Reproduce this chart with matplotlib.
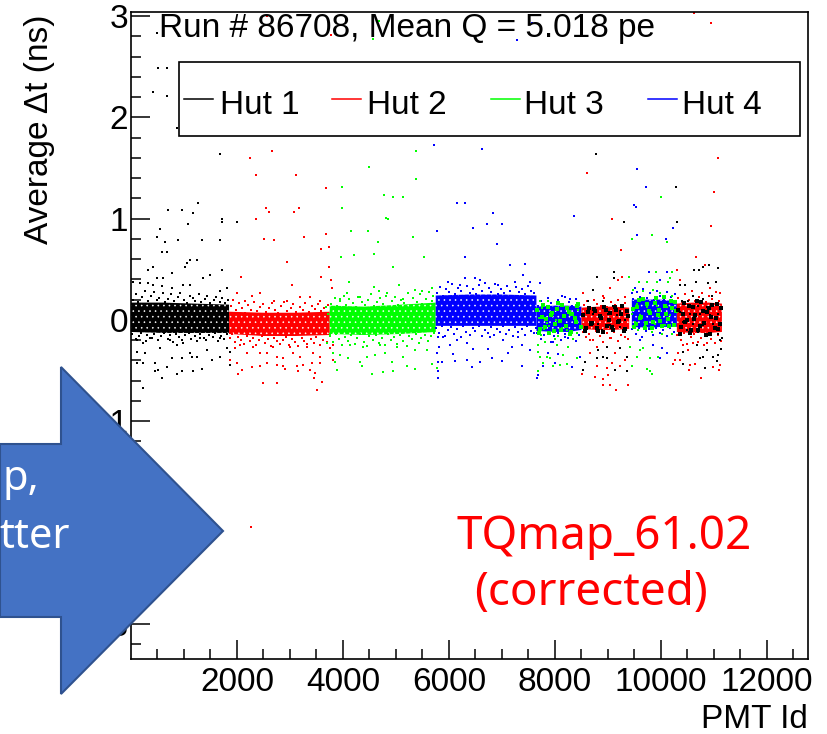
import numpy as np
import matplotlib
matplotlib.use('Agg')
import matplotlib.pyplot as plt
from matplotlib.patches import Polygon, Rectangle
from matplotlib.lines import Line2D

W, H = 828, 734

# Outliers and sparse points (PMT id, average dt in ns)
hut1_x = [484, 515, 677, 420, 677, 870, 1680, 1260, 700, 960, 1170, 1080, 550, 490, 640, 890, 1340, 1680, 585, 680,
          1720, 1720, 2000, 8770, 10280, 9300, 10300,
          420, 330, 770, 1490, 1710, 1365, 485, 610, 45, 170, 330, 420, 580, 770, 990, 1115, 1680, 1805, 1020, 1050, 1115, 1240,
          110, 360, 235, 735, 990, 1300, 1680, 110, 265, 550, 860, 1115, 1240, 1430, 1805, 110, 235, 455, 770, 955, 1145, 1520,
          1680, 1870, 455, 515, 675, 860, 955, 1175, 1335, 580, 235, 1870,
          8725, 8800, 9115, 9115, 8630, 8910, 9100, 9225, 8725, 8850, 9005, 9165, 9320, 8660, 8820, 9040, 9225, 8880, 9100, 9320,
          8820, 8975, 9225, 8910, 8975, 8785, 9350, 8535, 9350, 9130, 8565,
          10630, 10725, 10800, 10910, 11070, 10660, 10895, 11040, 10360, 10450, 10610, 10800, 10955, 10390, 10515, 10705, 10860,
          11050, 10360, 10550, 10735, 10925, 11080, 10420, 10610, 10800, 10990, 10485, 10705, 10895, 11080, 11145, 11115, 10675,
          10860, 11130, 10420, 10800, 10990, 10735, 11050, 10410, 10830, 11080]
hut1_y = [2.83, 2.49, 2.49, 2.25, 2.21, 1.89, 1.64, 1.15, 1.08, 1.08, 1.05, .95, .90, .82, .77, .79, .79, .79, .67, .67,
          1.0, .97, .97, 1.64, 1.31, .97, .97,
          .52, .49, .46, .44, .49, .41, .41, .41, .37, .36, .36, .34, .33, .31, .34, .34, .28, .31, .52, .56, .59, .59,
          -.20, -.18, -.23, -.2, -.23, -.18, -.18, -.32, -.33, -.28, -.25, -.33, -.37, -.30, -.28, -.43, -.43, -.43, -.38, -.38, -.37, -.40,
          -.37, -.45, -.51, -.50, -.47, -.54, -.51, -.51, -.49, -.57, -.67, -.32,
          .29, .42, .47, .41, .19, .19, .14, .09, .06, .03, .06, .05, 0, -.02, -.04, -.05, -.07, -.1, -.1, -.12,
          -.3, -.27, -.28, -.37, -.38, -.38, -.37, -.5, -.51, -.5, -.42,
          .49, .49, .52, .54, .51, .37, .36, .37, .34, .34, .24, .21, .24, .19, .19, .14, .13,
          .16, .08, .06, .06, .05, .06, -.02, -.04, -.05, -.04, -.1, -.12, -.14, -.14, -.18, -.2, -.25,
          -.3, -.29, -.32, -.37, -.37, -.38, -.41, -.44, -.48, -.35]

hut2_x = [2560, 3770, 2250, 2660, 2360, 3110, 3680, 2550, 2600, 3080, 3170, 2360, 2510, 2700, 3260, 3680, 3580, 3740,
          10620, 10950, 11070, 8610, 11000, 9080, 10940, 2260,
          2950, 3740, 2070, 3590, 3770, 3045, 3800, 2000, 2280, 2435, 2690, 2940, 3190, 3380, 3565, 2150,
          1965, 2185, 2435, 2560, 2750, 2875, 3060, 3190, 3440, 3565, 3755, 3820, 2055, 2310, 2685, 3000, 3315,
          1870, 2000, 2280, 2435, 2560, 2750, 2875, 3125, 3250, 3410, 3565, 3820, 2025, 2090, 2500, 2750, 3160, 3380, 3475, 3455, 3600, 3515, 2905,
          8535, 9040, 9260, 9195, 8910, 9320, 8660, 9040, 9320, 8660, 8785, 9130, 9320, 9070, 8785, 8975, 9225, 8510, 8755, 8910,
          9005, 8900, 9040, 9145, 9370, 9240,
          10660, 10830, 10310, 10360, 11115, 10925, 10420, 10610, 10860, 10325, 10515, 10360, 10235, 10550, 10640, 10990, 11115,
          10535, 11100, 10755, 10265]
hut2_y = [3.0, 2.81, 1.6, 1.67, 1.43, 1.43, 1.3, 1.1, 1.06, 1.06, 1.1, 1.0, .8, .79, .82, .85, .7, .72,
          3.03, 2.93, 1.6, 1.45, 1.26, 1.0, .93, -2.05,
          .57, .52, .42, .42, .39, .34, .31, .26, .24, .26, .19, .19, .23, .23, .19, .19,
          -.28, -.33, -.33, -.33, -.37, -.38, -.33, -.37, -.33, -.37, -.28, -.25, -.25, -.27, -.27, -.27, -.27,
          -.40, -.43, -.47, -.46, -.43, -.45, -.46, -.46, -.45, -.43, -.43, -.40, -.54, -.50, -.62, -.62, -.51, -.50, -.53, -.57, -.61, -.69, -.49,
          .26, .31, .42, .39, .24, .23, -.2, -.18, -.17, -.33, -.27, -.33, -.4, -.43, -.46, -.48, -.46, -.54, -.56, -.58,
          -.55, -.64, -.64, -.69, -.64, .69,
          .62, .54, .49, .39, .26, .31, -.25, -.23, -.23, -.33, -.3, -.4, -.44, -.45, -.44, -.47, -.45,
          -.5, -.5, -.57, -.4]

hut3_x = [4680, 4570, 5380, 4490, 5380, 3980, 4780, 4940, 5130, 3980, 4810, 4850, 4150, 4470, 5320, 4660, 4210, 4580, 3960, 5530,
          10000, 9450, 9830, 10110,
          4940, 4120, 4590, 5065, 4070, 4670, 4825, 5360, 5485, 5675, 5705, 3945, 4320, 5140,
          3820, 4135, 4385, 4700, 5015, 5360, 5580, 3945, 4100, 4320, 4450, 4605, 4795, 4920, 5140, 5675, 3850, 4350, 4540, 4760, 4950,
          5200, 5360, 5770, 3880, 3695, 3755, 3725, 3680,
          7685, 7720, 7840, 7780, 7970, 8095, 8220, 8030, 8250, 8410, 7685, 7905, 8155, 7685, 7810, 8000, 8345, 7715, 7875, 8030,
          7760, 7930, 8110, 8280, 8440, 7700, 7850, 8020, 8190, 8370, 7790, 7960, 8130, 8300, 7730, 7890, 8060, 8230, 8410,
          9395, 9905, 10200, 10170, 10140, 9585, 9730, 9920, 9480, 9670, 9855, 9980, 10200, 9540, 9730, 9920, 10110, 9445, 9605,
          9795, 9980, 10170, 9510, 9700, 9885, 10075, 9570, 9825, 10015, 10200, 9415, 9605, 9670, 9540, 9795, 9950, 9445, 9730, 9835, 9795]
hut3_y = [2.95, 2.77, 1.67, 1.51, 1.39, 1.31, 1.23, 1.21, 1.21, 1.1, 1.01, 1.0, .88, .88, .82, .77, .64, .65, .62, .62,
          1.21, .8, .84, .77,
          .52, .37, .32, .34, .26, .28, .26, .29, .28, .31, .24, .21, .23, .21,
          -.33, -.25, -.27, -.25, -.27, -.30, -.30, -.35, -.38, -.42, -.37, -.35, -.33, -.42, -.37, -.44, -.42, -.46, -.54, -.52, -.51,
          -.46, -.49, -.48, -.50, -.23, -.14, .06, .13,
          -.25, -.37, -.37, -.43, -.46, -.45, -.44, -.25, -.27, -.38, -.51, -.38, -.35, -.32, -.22, -.19, -.19, .19, .19, .18,
          .12, .08, .14, .05, .1, .02, -.03, 0, -.05, .03, -.09, -.12, -.08, -.14, -.15, -.06, -.16, -.1, -.13,
          .42, .47, .47, .41, .37, .37, .37, .37, .29, .28, .29, .26, .24, .16, .13, .14, .13, .06, .05,
          .06, .03, .05, -.02, -.05, -.04, -.05, -.1, -.12, -.14, -.14, -.27, -.3, -.28, -.37, -.38, -.37, -.46, -.49, -.54, -.51]

hut4_x = [7280, 7560, 5720, 6620, 6150, 6300, 6830, 6710, 7000, 6450, 5770, 6900, 6300,
          9550, 9710, 9490, 9530, 8360, 10230, 9550, 10090,
          6300, 7150, 7435, 7400, 6300, 6490, 6585, 5990, 6210, 6680, 6930, 7245, 7530, 7715,
          5895, 6145, 6335, 6775, 7025, 7310, 7370, 6020, 6080, 6460, 6740, 7180, 7530, 6335, 6585, 6805, 6995, 7370, 6430, 5860, 6115, 7120,
          5800, 5820, 5770, 5800, 5790, 5800,
          7675, 7670, 7780, 8000, 8315, 7875, 8065, 8470, 7970, 8190, 8125, 8285,
          9780, 10105, 9980, 9445, 9510, 9855, 10015, 9605, 9980, 10105]
hut4_y = [2.76, 2.93, 1.73, 1.69, 1.15, 1.15, 1.05, .95, .95, .91, .88, .75, .62,
          1.49, 1.31, 1.13, 1.11, 1.03, .91, .84, .8,
          .62, .54, .55, .44, .41, .41, .39, .37, .34, .36, .34, .37, .37, .36,
          -.17, -.2, -.23, -.17, -.2, -.17, -.25, -.25, -.34, -.29, -.29, -.27, -.3, -.4, -.42, -.38, -.41, -.46, -.47, -.42, -.41, -.33,
          -.17, -.27, -.33, -.42, -.51, -.57,
          -.55, -.57, -.46, -.43, -.47, -.33, -.34, -.37, -.22, -.17, .24, .21,
          .47, .47, .39, .26, .31, -.25, -.28, -.2, -.38, -.33]

# Ragged rim around the dense core
edge1_x = [30, 90, 140, 210, 260, 330, 370, 430, 490, 530, 600, 650, 700, 760, 810, 880, 930, 1000, 1050, 1110, 1170, 1210,
           1280, 1330, 1390, 1440, 1500, 1560, 1610, 1670, 1720, 1780, 1830,
           20, 100, 150, 190, 280, 310, 390, 440, 510, 560, 620, 690, 740, 800, 850, 910, 970, 1020, 1090, 1130, 1200, 1250,
           1310, 1370, 1420, 1470, 1540, 1590, 1640, 1700, 1750, 1810]
edge1_y = [.2, .25, .18, .23, .28, .19, .24, .27, .2, .22, .26, .18, .21, .25, .19, .23, .26, .2, .17, .24, .22, .19,
           .25, .18, .21, .24, .17, .2, .23, .18, .22, .17, .2,
           -.14, -.19, -.16, -.13, -.21, -.15, -.18, -.14, -.2, -.16, -.13, -.19, -.15, -.22, -.14, -.17, -.2, -.15, -.13, -.19, -.16, -.21,
           -.14, -.18, -.2, -.15, -.17, -.13, -.21, -.16, -.19, -.14]

edge2_x = [1880, 1930, 1990, 2040, 2100, 2150, 2210, 2260, 2320, 2380, 2430, 2490, 2550, 2600, 2660, 2720, 2780, 2830, 2890, 2950,
           3010, 3060, 3120, 3180, 3240, 3290, 3350, 3410, 3470, 3520, 3590, 3650, 3710,
           1860, 1910, 1970, 2020, 2080, 2130, 2190, 2240, 2300, 2360, 2410, 2470, 2530, 2580, 2640, 2700, 2760, 2810, 2870, 2930,
           2990, 3040, 3100, 3160, 3220, 3270, 3330, 3390, 3450, 3500, 3570, 3630, 3690,
           8540, 8600, 8670, 8730, 8790, 8860, 8930, 8990, 9060, 9130, 9190, 9260, 9330,
           8520, 8590, 8650, 8710, 8780, 8840, 8910, 8980, 9050, 9110, 9180, 9250, 9310, 9380,
           10330, 10390, 10450, 10520, 10580, 10640, 10710, 10770, 10840, 10900, 10970, 11030, 11100,
           10310, 10370, 10430, 10500, 10560, 10630, 10690, 10760, 10820, 10890, 10950, 11020, 11080, 11140]
edge2_y = [.14, .2, .1, .17, .12, .07, .15, .1, .18, .09, .13, .16, .08, .12, .17, .1, .07, .14, .18, .09,
           .12, .16, .08, .13, .1, .17, .08, .14, .11, .16, .09, .12, .15,
           -.18, -.14, -.22, -.17, -.2, -.24, -.16, -.21, -.18, -.25, -.2, -.16, -.23, -.19, -.26, -.18, -.21, -.24, -.2, -.17,
           -.25, -.19, -.22, -.26, -.18, -.21, -.24, -.19, -.23, -.17, -.25, -.2, -.22,
           .15, .19, .13, .2, .16, .14, .22, .13, .18, .15, .2, .14, .17,
           -.12, -.17, -.14, -.2, -.11, -.16, -.22, -.13, -.18, -.12, -.21, -.15, -.11, -.19,
           .22, .18, .25, .2, .28, .19, .23, .26, .18, .24, .21, .27, .19,
           -.15, -.2, -.13, -.24, -.17, -.14, -.22, -.18, -.25, -.13, -.19, -.23, -.15, -.21]

edge3_x = [3780, 3840, 3890, 3950, 4010, 4060, 4120, 4180, 4240, 4290, 4350, 4410, 4470, 4520, 4580, 4640, 4700, 4760, 4810, 4870,
           4930, 4990, 5040, 5100, 5160, 5220, 5270, 5330, 5390, 5450, 5500, 5560, 5620, 5680,
           3760, 3820, 3870, 3930, 3990, 4040, 4100, 4160, 4220, 4270, 4330, 4390, 4450, 4500, 4560, 4620, 4680, 4740, 4790, 4850,
           4910, 4970, 5020, 5080, 5140, 5200, 5250, 5310, 5370, 5430, 5480, 5540, 5600, 5660, 5720]
edge3_y = [.16, .22, .14, .19, .24, .15, .21, .17, .13, .23, .18, .15, .2, .25, .14, .18, .22, .16, .24, .13,
           .19, .23, .15, .2, .17, .26, .14, .22, .18, .25, .16, .21, .27, .19,
           -.16, -.22, -.14, -.19, -.25, -.17, -.21, -.15, -.24, -.18, -.14, -.22, -.26, -.16, -.2, -.15, -.23, -.18, -.25, -.14,
           -.2, -.17, -.24, -.15, -.21, -.26, -.16, -.19, -.14, -.23, -.18, -.15, -.21, -.16, -.13]

edge4_x = [5770, 5830, 5880, 5940, 6000, 6050, 6110, 6170, 6230, 6280, 6340, 6400, 6460, 6510, 6570, 6630, 6690, 6750, 6800, 6860,
           6920, 6980, 7030, 7090, 7150, 7210, 7260, 7320, 7380, 7440, 7490, 7550, 7610,
           5760, 5820, 5870, 5930, 5990, 6040, 6100, 6160, 6220, 6270, 6330, 6390, 6450, 6500, 6560, 6620, 6680, 6740, 6790, 6850,
           6910, 6970, 7020, 7080, 7140, 7200, 7250, 7310, 7370, 7430, 7480, 7540, 7600, 7640,
           7680, 7740, 7800, 7870, 7930, 8000, 8060, 8130, 8190, 8260, 8330, 8400, 8460,
           7670, 7730, 7790, 7860, 7920, 7990, 8050, 8120, 8180, 8250, 8320, 8390, 8450,
           9480, 9540, 9600, 9670, 9730, 9800, 9860, 9930, 9990, 10060, 10120, 10190, 10260,
           9460, 9530, 9590, 9650, 9720, 9780, 9850, 9910, 9980, 10040, 10110, 10170, 10240]
edge4_y = [.26, .32, .24, .3, .27, .35, .25, .31, .28, .24, .33, .26, .3, .25, .34, .28, .24, .31, .27, .35,
           .25, .3, .26, .33, .28, .24, .32, .27, .3, .25, .33, .28, .26,
           -.08, -.13, -.06, -.16, -.1, -.07, -.14, -.09, -.17, -.06, -.12, -.15, -.08, -.11, -.06, -.16, -.1, -.13, -.07, -.15,
           -.09, -.12, -.06, -.14, -.1, -.16, -.07, -.12, -.09, -.15, -.06, -.11, -.13, -.08,
           .14, .19, .15, .22, .17, .13, .2, .15, .23, .18, .14, .21, .16,
           -.13, -.19, -.15, -.12, -.22, -.16, -.13, -.2, -.14, -.18, -.12, -.21, -.15,
           .21, .27, .23, .3, .22, .26, .2, .28, .24, .21, .27, .23, .25,
           -.09, -.14, -.08, -.17, -.11, -.09, -.15, -.08, -.13, -.1, -.16, -.08, -.12]

# Second hut drawn over the mixed stretches (black on red, green on blue)
mix_black_x = [8530, 8590, 8640, 8700, 8760, 8810, 8870, 8930, 8980, 9040, 9090, 9150, 9210, 9260, 9320, 9370,
               8560, 8620, 8680, 8740, 8790, 8850, 8910, 8960, 9020, 9080, 9130, 9190, 9240, 9300, 9350,
               10330, 10380, 10430, 10490, 10540, 10600, 10650, 10700, 10760, 10810, 10870, 10920, 10970, 11030, 11080, 11130,
               10350, 10410, 10460, 10520, 10570, 10630, 10680, 10740, 10790, 10850, 10900, 10950, 11010, 11060, 11110]
mix_black_y = [.05, -.08, .12, -.03, .09, -.11, .02, .13, -.06, .07, -.1, .1, -.01, .14, -.09, .04,
               -.11, .08, -.04, .11, -.08, .04, -.12, .1, 0, -.07, .13, -.02, .06, -.11, .09,
               .1, -.07, .17, 0, -.13, .13, .05, -.1, .18, -.03, .08, -.14, .15, .02, -.09, .12,
               -.14, .06, -.02, .14, -.1, .01, .19, -.06, .09, -.15, .12, .03, -.08, .16, -.04]

mix_green_x = [7670, 7720, 7780, 7830, 7890, 7940, 8000, 8050, 8110, 8170, 8220, 8280, 8330, 8390, 8440, 8490,
               7700, 7750, 7810, 7860, 7920, 7980, 8030, 8090, 8140, 8200, 8260, 8310, 8370, 8420,
               9470, 9520, 9580, 9630, 9690, 9740, 9800, 9850, 9910, 9960, 10020, 10070, 10130, 10180, 10240, 10290,
               9500, 9550, 9610, 9660, 9720, 9770, 9830, 9880, 9940, 9990, 10050, 10100, 10160, 10210, 10270]
mix_green_y = [.1, -.09, .15, .01, -.13, .07, -.04, .17, -.1, .04, .12, -.14, .06, -.02, .16, -.07,
               -.13, .03, -.07, .13, .05, -.11, .11, -.01, .15, -.06, .08, -.12, .02, .14,
               .11, -.04, .2, .03, -.08, .16, .07, -.02, .22, .1, -.06, .14, .01, .19, -.05, .09,
               -.07, .13, .02, .21, -.03, .09, -.08, .17, .05, -.01, .23, .06, -.06, .12, .18]

# Dense core of each stretch: PMT id range, lower and upper edge in ns
band_colors = ['k', 'r', 'lime', 'b', 'b', 'r', 'b', 'r']
band_x = [[0, 600, 1200, 1850], [1850, 2500, 3100, 3750], [3750, 4400, 5100, 5750], [5750, 6400, 7000, 7650],
          [7650, 8000, 8250, 8500], [8500, 8800, 9100, 9400], [9450, 9750, 10000, 10300], [10300, 10600, 10900, 11150]]
band_lo = [[-.12, -.13, -.13, -.13], [-.14, -.16, -.16, -.15], [-.14, -.15, -.14, -.12], [-.06, -.06, -.06, -.06],
           [-.11, -.12, -.12, -.1], [-.09, -.1, -.1, -.09], [-.07, -.08, -.07, -.07], [-.12, -.13, -.13, -.12]]
band_hi = [[.17, .17, .16, .15], [.08, .07, .07, .08], [.14, .13, .15, .17], [.24, .25, .25, .24],
           [.13, .14, .14, .13], [.12, .13, .13, .12], [.2, .2, .2, .18], [.16, .17, .17, .16]]

hut_labels = ['Hut 1', 'Hut 2', 'Hut 3', 'Hut 4']
hut_colors = ['k', 'r', 'lime', 'b']


def fx(px):
    return px / W


def fy(py):
    return 1 - py / H


plt.rcParams['font.family'] = ['Liberation Sans', 'DejaVu Sans']
plt.rcParams['hatch.linewidth'] = 0.4

fig = plt.figure(figsize=(W / 100, H / 100), dpi=100)
ax = fig.add_axes([fx(131), fy(659), fx(808 - 131), (659 - 12) / H])

# dense core first, hatched white so it keeps the speckled look
for x, lo, hi, c in zip(band_x, band_lo, band_hi, band_colors):
    ax.fill_between(x, lo, hi, facecolor=c, edgecolor='white', hatch='...', linewidth=0, zorder=1)

ax.scatter(edge4_x, edge4_y, s=3.0, c='b', marker='s', linewidths=0, zorder=2)
ax.scatter(edge3_x, edge3_y, s=3.0, c='lime', marker='s', linewidths=0, zorder=2)
ax.scatter(edge2_x, edge2_y, s=3.0, c='r', marker='s', linewidths=0, zorder=2)
ax.scatter(edge1_x, edge1_y, s=3.0, c='k', marker='s', linewidths=0, zorder=2)
ax.scatter(hut4_x, hut4_y, s=3.0, c='b', marker='s', linewidths=0, zorder=2)
ax.scatter(hut3_x, hut3_y, s=3.0, c='lime', marker='s', linewidths=0, zorder=2)
ax.scatter(hut2_x, hut2_y, s=3.0, c='r', marker='s', linewidths=0, zorder=2)
ax.scatter(hut1_x, hut1_y, s=3.0, c='k', marker='s', linewidths=0, zorder=2)
ax.scatter(mix_green_x, mix_green_y, s=6.0, c='lime', marker='s', linewidths=0, zorder=3)
ax.scatter(mix_black_x, mix_black_y, s=6.0, c='k', marker='s', linewidths=0, zorder=3)

ax.set_xlim(0, 12774)
ax.set_ylim(-3.35, 3.04)
ax.set_xticks([2000, 4000, 6000, 8000, 10000, 12000])
ax.set_xticks(np.arange(500, 12774, 500), minor=True)
ax.set_yticks([-3, -2, -1, 0, 1, 2, 3])
ax.set_yticklabels(['\u22123', '\u22122', '\u22121', '0', '1', '2', '3'])
ax.set_yticks(np.arange(-3.2, 3.04, 0.2), minor=True)
ax.tick_params(which='major', direction='in', length=14, width=1.1, labelsize=24)
ax.tick_params(which='minor', direction='in', length=7, width=1.1)
ax.tick_params(axis='x', which='major', pad=6)
ax.tick_params(axis='y', which='major', pad=2)
for s in ax.spines.values():
    s.set_linewidth(1.2)

ax.set_xlabel('PMT Id', fontsize=24, loc='right', labelpad=4)
fig.text(fx(40), fy(15), 'Average \u0394t (ns)', fontsize=24, rotation=90, ha='center', va='top')

fig.text(fx(159), fy(29), 'Run # 86708, Mean Q = 5.018 pe', fontsize=24, ha='left', va='center', zorder=3)

# legend box, placed by hand like the original
fig.add_artist(Rectangle((fx(179), fy(136)), fx(621), 74 / H, transform=fig.transFigure,
                         facecolor='white', edgecolor='k', linewidth=1.2, zorder=3))
leg_line_x = [184, 332, 491, 648]
leg_text_x = [220, 367, 524, 682]
for lbl, c, lx, tx in zip(hut_labels, hut_colors, leg_line_x, leg_text_x):
    fig.add_artist(Line2D([fx(lx), fx(lx + 29)], [fy(99), fy(99)], color=c, lw=1.1, zorder=4))
    fig.text(fx(tx), fy(114), lbl, fontsize=24, ha='left', va='baseline', zorder=4)

# slide overlays
arrow = [(0, 444), (61, 444), (61, 367), (223, 531), (61, 694), (61, 617), (0, 617)]
fig.add_artist(Polygon([(fx(a), fy(b)) for a, b in arrow], closed=True, transform=fig.transFigure,
                       facecolor='#4472C4', edgecolor='#2F528F', linewidth=1.5, zorder=6))
slide_font = ['Noto Sans', 'DejaVu Sans']
fig.text(fx(2), fy(490), 'p,', color='white', fontsize=30, family=slide_font, va='baseline', zorder=7)
fig.text(fx(-1), fy(548), 'tter', color='white', fontsize=30, family=slide_font, va='baseline', zorder=7)
fig.text(fx(604), fy(549), 'TQmap_61.02', color='red', fontsize=33, family=slide_font, ha='center', va='baseline', zorder=7)
fig.text(fx(591), fy(605), '(corrected)', color='red', fontsize=33, family=slide_font, ha='center', va='baseline', zorder=7)

fig.savefig('out.png', dpi=100)
